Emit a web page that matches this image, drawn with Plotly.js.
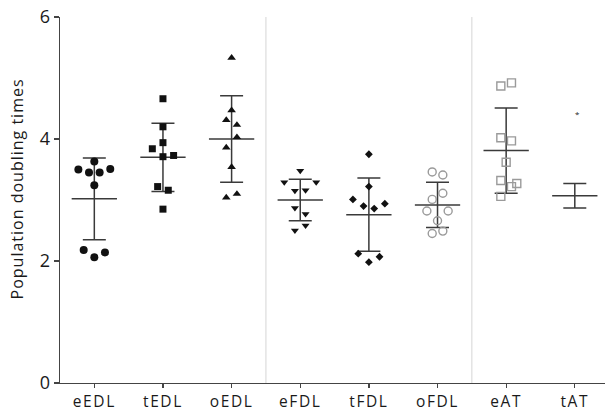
<!DOCTYPE html>
<html>
<head>
<meta charset="utf-8">
<script src="https://cdn.plot.ly/plotly-3.0.1.min.js"></script>
<style>
html,body{margin:0;padding:0;background:#fff;}
#chart{width:605px;height:416px;}
#chart .xtick text{letter-spacing:1.6px;}
</style>
</head>
<body>
<div id="chart"></div>
<script>
// ---- data ----
const categories = ['eEDL', 'tEDL', 'oEDL', 'eFDL', 'tFDL', 'oFDL', 'eAT', 'tAT'];
const eEDL = [3.63, 3.50, 3.45, 3.45, 3.51, 3.24, 2.18, 2.06, 2.14];
const tEDL = [4.66, 4.20, 3.94, 3.84, 3.71, 3.73, 3.22, 3.16, 2.85];
const oEDL = [5.33, 4.47, 4.31, 4.23, 4.03, 3.86, 3.54, 3.10, 3.04];
const eFDL = [3.48, 3.29, 3.29, 3.15, 3.16, 2.87, 2.77, 2.58, 2.50];
const tFDL = [3.75, 3.22, 3.01, 2.90, 2.86, 2.94, 2.12, 1.98, 2.07];
const oFDL = [3.46, 3.41, 3.11, 3.01, 2.82, 2.82, 2.66, 2.45, 2.49];
const eAT  = [4.87, 4.92, 4.02, 3.97, 3.62, 3.32, 3.22, 3.27, 3.06];
const tAT  = [];
const groupMeans = [3.02, 3.70, 4.00, 3.00, 2.76, 2.92, 3.81, 3.07];
const groupSD    = [0.67, 0.56, 0.71, 0.34, 0.60, 0.37, 0.70, 0.20];
const yTicks = [0, 2, 4, 6];
const yTitle = 'Population doubling times';
const starLabel = '*';
const starValue = 4.42;

// ---- layout: horizontal scatter slots (jitter) per point ----
const slots = {
  eEDL: [0, -1.5, -0.5, 0.5, 1.5, 0, -1, 0, 1],
  tEDL: [0, 0, 0, -1, 0, 1, -0.5, 0.5, 0],
  oEDL: [0, 0, -0.5, 0.5, 0.5, -0.5, 0, 0.5, -0.5],
  eFDL: [0, -1.5, 1.5, -0.5, 0.5, -0.5, 0.5, 0.5, -0.5],
  tFDL: [0, 0, -1.5, -0.5, 0.5, 1.5, -1, 0, 1],
  oFDL: [-0.5, 0.5, 0.5, -0.5, -1, 1, 0, -0.5, 0.5],
  eAT:  [-0.5, 0.5, -0.5, 0.5, 0, -0.5, 0.5, 1, -0.5],
  tAT:  []
};
const slotW = 0.155;

const series = {eEDL, tEDL, oEDL, eFDL, tFDL, oFDL, eAT, tAT};
const styles = {
  eEDL: {symbol: 'circle', size: 8, color: '#111', line: {width: 0}},
  tEDL: {symbol: 'square', size: 7, color: '#111', line: {width: 0}},
  oEDL: {symbol: 'triangle-up', size: 7.5, color: '#111', line: {width: 0}},
  eFDL: {symbol: 'triangle-down', size: 7, color: '#111', line: {width: 0}},
  tFDL: {symbol: 'diamond', size: 6, color: '#111', line: {width: 0}},
  oFDL: {symbol: 'circle-open', size: 8, color: '#9a9a9a', line: {width: 1.4, color: '#9a9a9a'}},
  eAT:  {symbol: 'square-open', size: 8, color: '#9a9a9a', line: {width: 1.4, color: '#9a9a9a'}},
  tAT:  {symbol: 'circle', size: 6, color: '#111', line: {width: 0}}
};

const traces = [];
// mean + SD
traces.push({
  type: 'scatter', mode: 'markers',
  x: categories.map((c, i) => i), y: groupMeans,
  marker: {size: 1, opacity: 0},
  error_y: {type: 'data', array: groupSD, visible: true, width: 11.5, thickness: 1.5, color: '#3a3a3a'},
  error_x: {type: 'data', array: categories.map(() => 0.33), visible: true, width: 0, thickness: 1.5, color: '#3a3a3a'},
  hoverinfo: 'skip', showlegend: false
});
categories.forEach((c, i) => {
  const vals = series[c];
  if (!vals.length) return;
  traces.push({
    type: 'scatter', mode: 'markers', name: c,
    x: vals.map((v, k) => i + slots[c][k] * slotW),
    y: vals,
    marker: styles[c],
    showlegend: false
  });
});

const font = '"Open Sans", Lato, sans-serif';
const layout = {
  width: 605, height: 416,
  margin: {l: 60, r: 0, t: 17, b: 33, pad: 0},
  paper_bgcolor: '#fff', plot_bgcolor: '#fff',
  font: {family: font, color: '#1a1a1a', size: 15},
  showlegend: false,
  xaxis: {
    range: [-0.5, 7.44], tickvals: categories.map((c, i) => i), ticktext: categories,
    showline: true, linecolor: '#444', linewidth: 1.3, ticks: 'outside', ticklen: 4, tickwidth: 1.3, tickcolor: '#444',
    showgrid: false, zeroline: false, tickfont: {size: 15.5, family: font}, automargin: false, fixedrange: true
  },
  yaxis: {
    range: [0, 6], tickvals: yTicks, ticktext: yTicks.map(String),
    showline: true, linecolor: '#444', linewidth: 1.3, ticks: 'outside', ticklen: 5, tickwidth: 1.3, tickcolor: '#444',
    showgrid: false, zeroline: false, tickfont: {size: 18, family: font}, automargin: false
  },
  shapes: [2.5, 5.5].map(xv => ({
    type: 'line', xref: 'x', yref: 'paper', x0: xv, x1: xv, y0: 0, y1: 1,
    line: {color: '#dcdcdc', width: 1.2}, layer: 'below'
  })),
  annotations: [
    {
      x: 7.04, y: starValue, xref: 'x', yref: 'y', text: starLabel, showarrow: false,
      font: {size: 8, color: '#222', family: font}
    },
    {
      x: -0.079, y: 0.53, xref: 'paper', yref: 'paper', text: yTitle, showarrow: false,
      textangle: -90, xanchor: 'center', yanchor: 'middle',
      font: {size: 16, color: '#1a1a1a', family: font}
    }
  ]
};

Plotly.newPlot('chart', traces, layout, {staticPlot: true, displayModeBar: false}).then(() => {
  document.querySelectorAll('#chart .annotation-text').forEach(t => {
    if (t.textContent === yTitle) t.style.letterSpacing = '1px';
  });
});
</script>
</body>
</html>
